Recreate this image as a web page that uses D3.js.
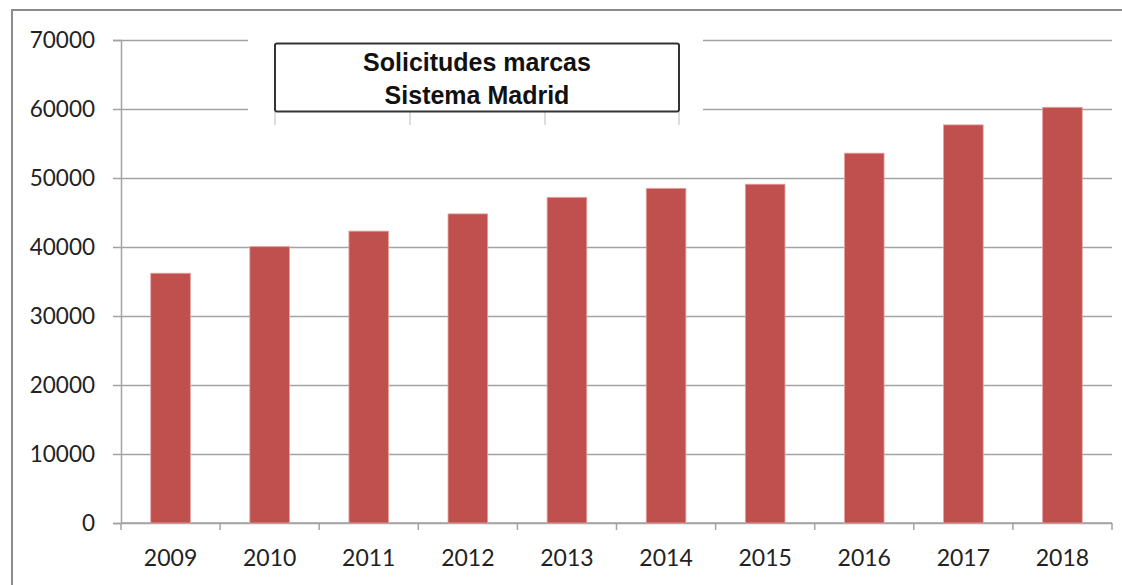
<html>
<head>
<title>Solicitudes marcas Sistema Madrid</title>
<script src="https://d3js.org/d3.v7.min.js"></script>
<style>
body { margin: 0; background: #fff; }
.axis text { font-family: Lato, "Open Sans", sans-serif; fill: #222; }
</style>
</head>
<body>
<svg id="chart" width="1122" height="585"></svg>
<script>
// chart values
var years = ["2009", "2010", "2011", "2012", "2013", "2014", "2015", "2016", "2017", "2018"];
var solicitudes = [36200, 40050, 42300, 44800, 47200, 48500, 49100, 53600, 57700, 60250];
var yTicks = [0, 10000, 20000, 30000, 40000, 50000, 60000, 70000];
var titleLines = ["Solicitudes marcas", "Sistema Madrid"];

var svg = d3.select("#chart");
var gridColor = "#a3a3a3";
var barFill = "#c0504d";

// plot area (note: "top" is reserved on window, so prefixed names)
var plotLeft = 121, plotRight = 1112, plotTop = 40, plotBottom = 523;

var x = d3.scaleBand()
  .domain(years)
  .range([plotLeft, plotRight])
  .paddingInner(0.6)
  .paddingOuter(0.3);

var y = d3.scaleLinear()
  .domain([0, 70000])
  .range([plotBottom, plotTop]);

// outer frame (only left and top edges visible)
svg.append("path")
  .attr("d", "M12,585 V10 H1122")
  .attr("fill", "none")
  .attr("stroke", "#8c8c8c")
  .attr("stroke-width", 2);

// y axis + gridlines
var yAxis = svg.append("g")
  .attr("class", "axis")
  .attr("transform", "translate(" + plotLeft + ",0)")
  .call(d3.axisLeft(y).tickValues(yTicks).tickSize(8).tickPadding(18).tickFormat(d3.format("d")));
yAxis.select(".domain").attr("stroke", gridColor).attr("stroke-width", 1.5);
yAxis.selectAll(".tick line").attr("stroke", gridColor).attr("stroke-width", 1.5);
yAxis.selectAll(".tick").append("line")
  .attr("x1", 0)
  .attr("x2", plotRight - plotLeft)
  .attr("stroke", gridColor)
  .attr("stroke-width", 1.5);
yAxis.selectAll("text").style("font-size", "22.5px");

// x axis: labels centered, ticks on category boundaries
var xAxis = svg.append("g")
  .attr("class", "axis")
  .attr("transform", "translate(0," + plotBottom + ")");
xAxis.append("line")
  .attr("x1", plotLeft).attr("x2", plotRight)
  .attr("stroke", gridColor).attr("stroke-width", 1.5);
var boundaries = d3.range(years.length + 1).map(function (i) { return plotLeft + i * x.step(); });
xAxis.selectAll("line.tick")
  .data(boundaries)
  .enter().append("line")
  .attr("class", "tick")
  .attr("x1", function (d) { return d; })
  .attr("x2", function (d) { return d; })
  .attr("y1", 0).attr("y2", 7)
  .attr("stroke", gridColor).attr("stroke-width", 1.5);
xAxis.selectAll("text")
  .data(years)
  .enter().append("text")
  .attr("x", function (d) { return x(d) + x.bandwidth() / 2; })
  .attr("y", 43)
  .attr("text-anchor", "middle")
  .style("font-size", "23px")
  .text(function (d) { return d; });

// bars
svg.selectAll("rect.bar")
  .data(years)
  .enter().append("rect")
  .attr("class", "bar")
  .attr("x", function (d) { return x(d); })
  .attr("width", x.bandwidth())
  .attr("y", function (d, i) { return y(solicitudes[i]); })
  .attr("height", function (d, i) { return y(0) - y(solicitudes[i]); })
  .attr("fill", barFill)
  .attr("stroke", "#e3a3a1")
  .attr("stroke-width", 0.8);

// title box, covering the top gridlines
svg.append("rect")
  .attr("x", 248).attr("y", 30)
  .attr("width", 455).attr("height", 82)
  .attr("fill", "#fff");

// faint marks under the box
svg.selectAll("line.mark")
  .data([275, 410, 545, 679])
  .enter().append("line")
  .attr("class", "mark")
  .attr("x1", function (d) { return d; })
  .attr("x2", function (d) { return d; })
  .attr("y1", 112).attr("y2", 125)
  .attr("stroke", "#ddd").attr("stroke-width", 2);

svg.append("rect")
  .attr("x", 275).attr("y", 43.5)
  .attr("width", 404).attr("height", 68)
  .attr("rx", 2)
  .attr("fill", "#fff")
  .attr("stroke", "#333")
  .attr("stroke-width", 2);

svg.selectAll("text.title")
  .data(titleLines)
  .enter().append("text")
  .attr("class", "title")
  .attr("x", 477)
  .attr("y", function (d, i) { return 71 + i * 33; })
  .attr("text-anchor", "middle")
  .style("font-family", "'Liberation Sans', Arial, sans-serif")
  .style("font-weight", "bold")
  .style("font-size", "25px")
  .style("fill", "#111")
  .text(function (d) { return d; });
</script>
</body>
</html>
